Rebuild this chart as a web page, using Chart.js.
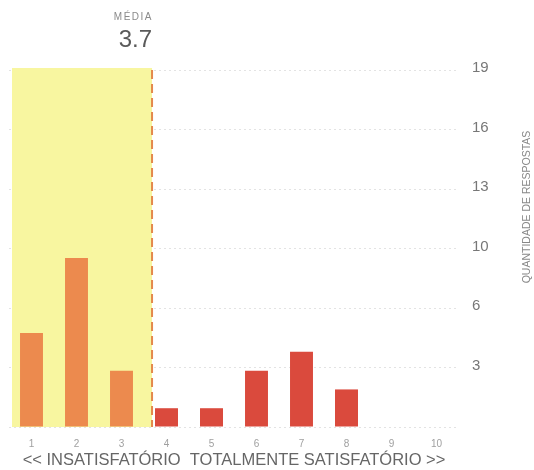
<!DOCTYPE html>
<html>
<head>
<meta charset="utf-8">
<script src="https://cdn.jsdelivr.net/npm/chart.js@4/dist/chart.umd.min.js"></script>
<style>
  html, body { margin: 0; padding: 0; background: #fff; }
  #wrap { width: 534px; height: 470px; position: relative; }
</style>
</head>
<body>
<div id="wrap"><canvas id="chartNotas"></canvas></div>
<script>
// notas de 1 a 10 e quantidade de respostas em cada uma
var notas = ['1', '2', '3', '4', '5', '6', '7', '8', '9', '10']
var respostas = [5, 9, 3, 1, 1, 3, 4, 2, 0, 0]
var yMax = 19
var yTickLabels = ['', '3', '6', '10', '13', '16', '19']

var corBaixa = '#ec8a4e'
var corAlta = '#da4a3d'
var corFaixa = '#f8f6a0'
var corLinha = '#e4894c'
var fonte = '"Liberation Sans", Arial, sans-serif'

// media ponderada das notas
var total = 0
var soma = 0
respostas.forEach(function(q, i) {
  total += q
  soma += q * (i + 1)
})
var media = soma / total

function xDaMedia(scale) {
  var p0 = scale.getPixelForValue(0)
  var passo = scale.getPixelForValue(1) - p0
  return p0 + (media - 1) * passo
}

var faixaMedia = {
  id: 'faixaMedia',
  beforeDatasetsDraw: function(chart) {
    var ctx = chart.ctx
    var area = chart.chartArea
    var xm = xDaMedia(chart.scales.x)
    ctx.save()
    ctx.fillStyle = corFaixa
    ctx.fillRect(area.left + 3, area.top - 2, xm - area.left - 3, area.bottom - area.top + 2)
    ctx.restore()
  },
  afterDatasetsDraw: function(chart) {
    var ctx = chart.ctx
    var area = chart.chartArea
    var xm = xDaMedia(chart.scales.x)
    ctx.save()
    ctx.strokeStyle = corLinha
    ctx.lineWidth = 2
    ctx.setLineDash([9, 5])
    ctx.beginPath()
    ctx.moveTo(xm, area.top)
    ctx.lineTo(xm, area.bottom)
    ctx.stroke()
    ctx.setLineDash([])

    // rotulo da media
    ctx.textAlign = 'right'
    ctx.textBaseline = 'middle'
    ctx.fillStyle = '#8a8a8a'
    ctx.font = '10px ' + fonte
    ctx.letterSpacing = '1.5px'
    ctx.fillText('MÉDIA', xm + 1, 17)
    ctx.letterSpacing = '0px'
    ctx.fillStyle = '#5a5a5a'
    ctx.font = '24px ' + fonte
    ctx.fillText(media.toFixed(1), xm, 40)

    // titulos dos eixos
    ctx.textAlign = 'center'
    ctx.fillStyle = '#666'
    ctx.font = '16.5px ' + fonte
    ctx.fillText('<< INSATISFATÓRIO  TOTALMENTE SATISFATÓRIO >>', (area.left + area.right) / 2, 460)
    ctx.translate(527, 207)
    ctx.rotate(-Math.PI / 2)
    ctx.fillStyle = '#888'
    ctx.font = '10.5px ' + fonte
    ctx.fillText('QUANTIDADE DE RESPOSTAS', 0, 0)
    ctx.restore()
  }
}

var ctx = document.getElementById('chartNotas').getContext('2d')

var chartNotas = new Chart(ctx, {
  type: 'bar',
  data: {
    labels: notas,
    datasets: [{
      label: 'Respostas',
      data: respostas,
      backgroundColor: respostas.map(function(q, i) { return i < 3 ? corBaixa : corAlta }),
      barPercentage: 0.51,
      categoryPercentage: 1
    }]
  },
  options: {
    responsive: true,
    maintainAspectRatio: false,
    animation: false,
    layout: {
      padding: { left: 9, top: 70, right: 0, bottom: 0 }
    },
    plugins: {
      legend: { display: false },
      tooltip: { enabled: false }
    },
    scales: {
      x: {
        grid: { display: false },
        border: { display: false },
        ticks: {
          color: '#a0a0a0',
          font: { family: fonte, size: 10 },
          padding: 3
        },
        afterFit: function(scale) { scale.height = 43 }
      },
      y: {
        position: 'right',
        min: 0,
        max: yMax,
        afterBuildTicks: function(scale) {
          scale.ticks = yTickLabels.map(function(t, i) {
            return { value: yMax * i / (yTickLabels.length - 1) }
          })
        },
        grid: {
          color: 'rgba(0,0,0,0.11)',
          drawTicks: false
        },
        border: { display: false, dash: [2, 3] },
        ticks: {
          color: '#777',
          padding: 13,
          labelOffset: -2,
          font: { family: fonte, size: 15 },
          callback: function(value, index) { return yTickLabels[index] }
        },
        afterFit: function(scale) { scale.width = 75 }
      }
    }
  },
  plugins: [faixaMedia]
})
</script>
</body>
</html>
